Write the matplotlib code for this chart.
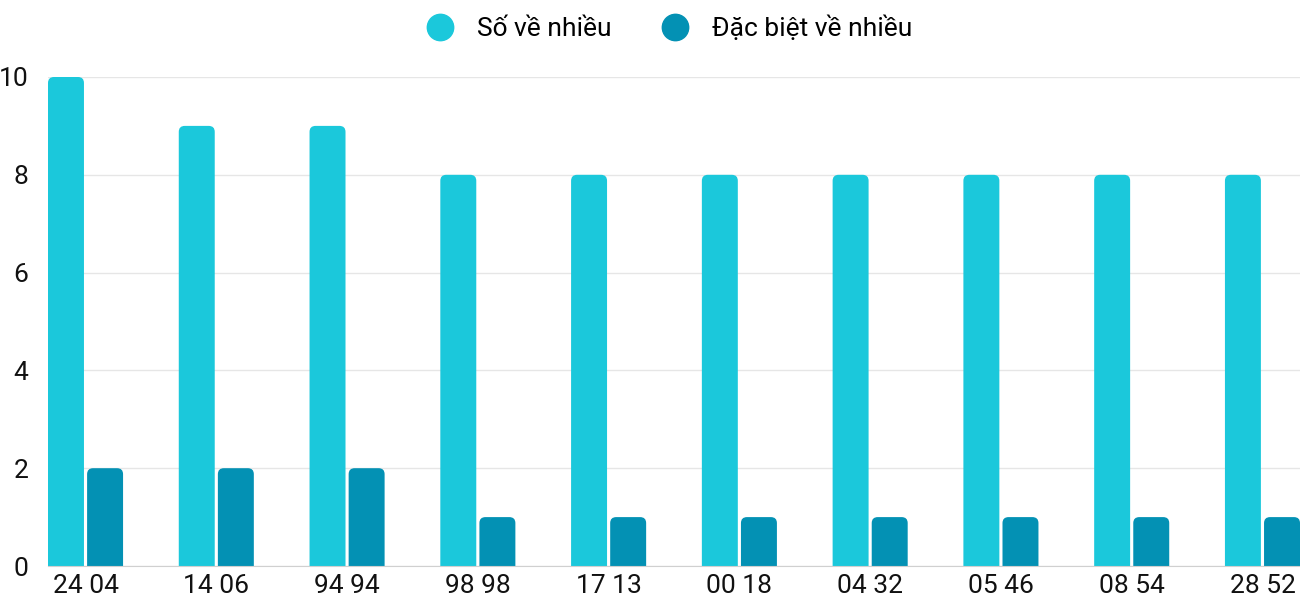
import numpy as np
import matplotlib.pyplot as plt
from matplotlib.path import Path
from matplotlib.patches import PathPatch
from matplotlib.lines import Line2D

plt.rcParams['font.family'] = ['Roboto', 'DejaVu Sans']

categories = ["24 04", "14 06", "94 94", "98 98", "17 13",
              "00 18", "04 32", "05 46", "08 54", "28 52"]
so_ve_nhieu = [10, 9, 9, 8, 8, 8, 8, 8, 8, 8]
dac_biet = [2, 2, 2, 1, 1, 1, 1, 1, 1, 1]
series_names = ["Số về nhiều", "Đặc biệt về nhiều"]
colors = ["#1bc8db", "#0391b4"]

fig = plt.figure(figsize=(13, 6), dpi=100)
ax = fig.add_axes([48 / 1300, 34 / 600, 1 - 48 / 1300, 489 / 600])

x = np.arange(len(categories))
w = 0.275
gap = 0.012
bars1 = ax.bar(x - w / 2 - gap, so_ve_nhieu, w, color=colors[0], zorder=3)
bars2 = ax.bar(x + w / 2 + gap, dac_biet, w, color=colors[1], zorder=3)

ax.set_xlim(-w - gap, len(categories) - 1 + w + gap)
ax.set_ylim(0, 10)


def round_top(ax, bars, r_px=6):
    # swap each bar for a path with rounded top corners
    fig.canvas.draw()
    p0 = ax.transData.transform((0, 0))
    p1 = ax.transData.transform((1, 1))
    rx = r_px / (p1[0] - p0[0])
    ry = r_px / (p1[1] - p0[1])
    for b in bars:
        x0, y0 = b.get_x(), b.get_y()
        bw, bh = b.get_width(), b.get_height()
        x1, y1 = x0 + bw, y0 + bh
        verts = [(x0, y0), (x0, y1 - ry), (x0, y1), (x0 + rx, y1),
                 (x1 - rx, y1), (x1, y1), (x1, y1 - ry), (x1, y0), (x0, y0)]
        codes = [Path.MOVETO, Path.LINETO, Path.CURVE3, Path.CURVE3,
                 Path.LINETO, Path.CURVE3, Path.CURVE3, Path.LINETO, Path.CLOSEPOLY]
        ax.add_patch(PathPatch(Path(verts, codes), facecolor=b.get_facecolor(),
                               edgecolor='none', zorder=3))
        b.set_visible(False)


round_top(ax, bars1)
round_top(ax, bars2)

ax.set_yticks([0, 2, 4, 6, 8, 10])
ax.yaxis.grid(True, color='#e6e6e6', linewidth=1, zorder=0)
ax.set_xticks(x)
ax.set_xticklabels(categories)
ax.tick_params(axis='both', length=0, labelsize=19, colors='#111111')
ax.tick_params(axis='y', pad=14)
ax.tick_params(axis='x', pad=6)
for s in ['top', 'right', 'left']:
    ax.spines[s].set_visible(False)
ax.spines['bottom'].set_color('#d0d0d0')
ax.spines['bottom'].set_zorder(4)

handles = [Line2D([], [], marker='o', linestyle='', markersize=19,
                  markerfacecolor=c, markeredgecolor=c) for c in colors]
fig.legend(handles, series_names, loc='center', bbox_to_anchor=(0.51, 1 - 28 / 600),
           ncol=2, frameon=False, fontsize=19, handletextpad=0.4,
           columnspacing=1.4)

fig.savefig("out.png", dpi=100)
